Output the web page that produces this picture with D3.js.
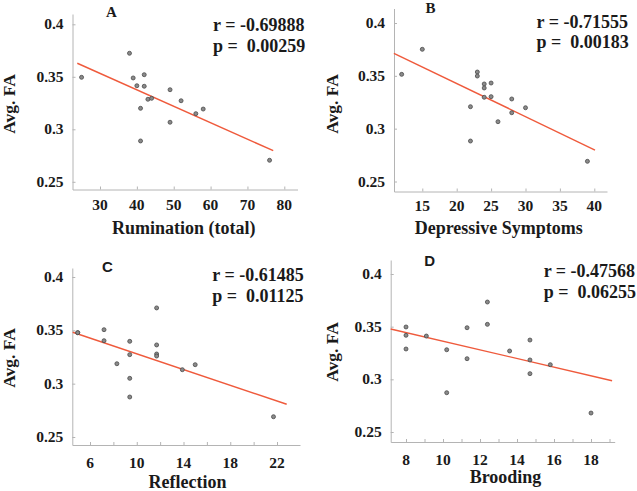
<!DOCTYPE html>
<html><head><meta charset="utf-8">
<script src="https://cdn.jsdelivr.net/npm/d3@7"></script>
<style>
html,body{margin:0;padding:0;background:#fff;}
svg{display:block;}
text{font-family:"Liberation Serif","Times New Roman",serif;font-weight:bold;fill:#1a1a1a;}
</style></head>
<body>
<svg id="chart" width="637" height="491"></svg>
<script>
// ---- data ----
const yTicks = [0.25, 0.3, 0.35, 0.4];
const yTickLabels = ["0.25", "0.3", "0.35", "0.4"];

// Panel A
const rumination = [25, 38, 39, 40, 42, 42, 41, 41, 43, 44, 49, 49, 52, 56, 58, 76];
const faA = [0.3495, 0.3724, 0.3489, 0.3415, 0.352, 0.341, 0.32, 0.2889, 0.3286, 0.3295, 0.3377, 0.3067, 0.3272, 0.3149, 0.3193, 0.2705];
const fitAx = [23.84, 77.0], fitAy = [0.3629, 0.2796];
const ticksA = [30, 40, 50, 60, 70, 80];
const ticksALabels = ["30", "40", "50", "60", "70", "80"];

// Panel B
const depressive = [12, 15, 23, 23, 24, 24, 24, 25, 25, 22, 22, 26, 28, 28, 30, 39];
const faB = [0.3514, 0.3751, 0.3536, 0.3498, 0.3423, 0.3385, 0.3297, 0.3432, 0.3303, 0.3208, 0.2883, 0.3066, 0.3281, 0.3151, 0.3198, 0.2691];
const fitBx = [10.87, 40.1], fitBy = [0.3713, 0.2798];
const ticksB = [15, 20, 25, 30, 35, 40];
const ticksBLabels = ["15", "20", "25", "30", "35", "40"];

// Panel C
const reflection = [4.95, 4.95, 7.2, 7.2, 8.3, 9.4, 9.4, 9.4, 9.4, 11.7, 11.7, 11.7, 11.7, 13.9, 15, 21.7];
const faC = [0.3478, 0.3478, 0.3506, 0.3403, 0.3187, 0.3397, 0.3272, 0.305, 0.2875, 0.371, 0.3363, 0.3278, 0.3259, 0.3131, 0.3178, 0.269];
const fitCx = [4.52, 22.83], fitCy = [0.3482, 0.2807];
const ticksC = [6, 10, 14, 18, 22];
const ticksCLabels = ["6", "10", "14", "18", "22"];
const minorC = [6, 8, 10, 12, 14, 16, 18, 20, 22];

// Panel D
const brooding = [8, 8, 8, 9.1, 10.2, 10.2, 11.3, 11.3, 12.4, 12.4, 13.6, 14.7, 14.7, 14.7, 15.8, 18];
const faD = [0.3497, 0.3418, 0.3288, 0.3411, 0.3281, 0.2873, 0.349, 0.3196, 0.3734, 0.3522, 0.3269, 0.3373, 0.3184, 0.3054, 0.3139, 0.268];
const fitDx = [7.17, 19.14], fitDy = [0.3478, 0.2987];
const ticksD = [8, 10, 12, 14, 16, 18];
const ticksDLabels = ["8", "10", "12", "14", "16", "18"];
const minorD = [8, 9, 10, 11, 12, 13, 14, 15, 16, 17, 18, 19];

const panelLetters = ["A", "B", "C", "D"];
const xTitles = ["Rumination (total)", "Depressive Symptoms", "Reflection", "Brooding"];
const yTitle = "Avg. FA";
const rVals = ["-0.69888", "-0.71555", "-0.61485", "-0.47568"];
const pVals = ["0.00259", "0.00183", "0.01125", "0.06255"];

// ---- layout (pixels) ----
const panels = [
  {x: rumination, y: faA, fx: fitAx, fy: fitAy, ticks: ticksA, tl: ticksALabels, minor: null,
   xRef: [30, 80], xRefPx: [100, 284.3], yRefPx: [181.8, 24.3],
   left: 72.5, right: 297.5, top: 14, bottom: 189.5,
   letter: {x: 111.5, y: 17, serif: true}, stat: {x: 213, y1: 30.5, y2: 51.5},
   ytitle: {x: 15, y: 104}, xtitle: {x: 183.7, y: 234}, xlabY: 209.5},
  {x: depressive, y: faB, fx: fitBx, fy: fitBy, ticks: ticksB, tl: ticksBLabels, minor: null,
   xRef: [15, 40], xRefPx: [422.3, 594.3], yRefPx: [181.5, 23],
   left: 394, right: 607, top: 8.5, bottom: 191.5,
   letter: {x: 430.5, y: 12.5, serif: true}, stat: {x: 536.5, y1: 27.7, y2: 47.7},
   ytitle: {x: 338, y: 104}, xtitle: {x: 498.8, y: 234}, xlabY: 210.5},
  {x: reflection, y: faC, fx: fitCx, fy: fitCy, ticks: ticksC, tl: ticksCLabels, minor: minorC,
   xRef: [6, 22], xRefPx: [90, 277], yRefPx: [437, 277],
   left: 72.3, right: 300, top: 268, bottom: 445,
   letter: {x: 107.5, y: 272, serif: false}, stat: {x: 212.3, y1: 281, y2: 301.7},
   ytitle: {x: 15, y: 358}, xtitle: {x: 187.5, y: 488}, xlabY: 467.5},
  {x: brooding, y: faD, fx: fitDx, fy: fitDy, ticks: ticksD, tl: ticksDLabels, minor: minorD,
   xRef: [8, 18], xRefPx: [406, 591], yRefPx: [432, 274],
   left: 390.7, right: 614.7, top: 260, bottom: 442,
   letter: {x: 429.7, y: 266, serif: false}, stat: {x: 543.7, y1: 277.3, y2: 297.7},
   ytitle: {x: 338, y: 352}, xtitle: {x: 505.5, y: 483}, xlabY: 465}
];

const svg = d3.select("#chart");
const axisColor = "#b4b4b4";

panels.forEach((P, i) => {
  const g = svg.append("g");
  const xs0 = d3.scaleLinear().domain(P.xRef).range(P.xRefPx);
  const x = d3.scaleLinear().domain([xs0.invert(P.left), xs0.invert(P.right)]).range([P.left, P.right]);
  const ys0 = d3.scaleLinear().domain([0.25, 0.4]).range(P.yRefPx);
  const y = d3.scaleLinear().domain([ys0.invert(P.bottom), ys0.invert(P.top)]).range([P.bottom, P.top]);

  const xa = g.append("g").attr("transform", `translate(0,${P.bottom})`)
    .call(d3.axisBottom(x).tickValues(P.minor || P.ticks).tickSize(-3).tickSizeOuter(0).tickFormat(""));
  xa.select(".domain").attr("stroke", axisColor).attr("stroke-width", 1);
  xa.selectAll(".tick line").attr("stroke", axisColor);
  g.selectAll(".xl").data(P.ticks).enter().append("text")
    .attr("x", d => x(d)).attr("y", P.xlabY).attr("text-anchor", "middle")
    .attr("font-size", 15.5).text((d, k) => P.tl[k]);

  const ya = g.append("g").attr("transform", `translate(${P.left},0)`)
    .call(d3.axisLeft(y).tickValues(yTicks).tickSize(-3).tickSizeOuter(0).tickFormat(""));
  ya.select(".domain").attr("stroke", axisColor).attr("stroke-width", 1);
  ya.selectAll(".tick line").attr("stroke", axisColor);
  g.selectAll(".yl").data(yTicks).enter().append("text")
    .attr("x", P.left - 9).attr("y", d => y(d) + 5).attr("text-anchor", "end")
    .attr("font-size", 15.5).text((d, k) => yTickLabels[k]);

  g.append("line")
    .attr("x1", x(P.fx[0])).attr("y1", y(P.fy[0]))
    .attr("x2", x(P.fx[1])).attr("y2", y(P.fy[1]))
    .attr("stroke", "#ef5a3c").attr("stroke-width", 1.4);

  g.selectAll(".pt").data(P.x).enter().append("circle")
    .attr("cx", d => x(d)).attr("cy", (d, k) => y(P.y[k])).attr("r", 2)
    .attr("fill", "#8a8a8a").attr("stroke", "#4a4a4a").attr("stroke-width", 0.8);

  g.append("text").attr("x", P.stat.x).attr("y", P.stat.y1).attr("font-size", 18)
    .text("r = " + rVals[i]);
  g.append("text").attr("x", P.stat.x).attr("y", P.stat.y2).attr("font-size", 18)
    .attr("xml:space", "preserve").style("white-space", "pre")
    .text("p =  " + pVals[i]);

  g.append("text").attr("x", P.letter.x).attr("y", P.letter.y).attr("text-anchor", "middle")
    .attr("font-size", 15)
    .style("font-family", P.letter.serif ? "'Liberation Serif',serif" : "'Liberation Sans',Arial,sans-serif")
    .text(panelLetters[i]);

  g.append("text").attr("transform", `translate(${P.ytitle.x},${P.ytitle.y}) rotate(-90)`)
    .attr("text-anchor", "middle").attr("font-size", 17.5).text(yTitle);
  g.append("text").attr("x", P.xtitle.x).attr("y", P.xtitle.y).attr("text-anchor", "middle")
    .attr("font-size", 18).text(xTitles[i]);
});
</script>
</body></html>
